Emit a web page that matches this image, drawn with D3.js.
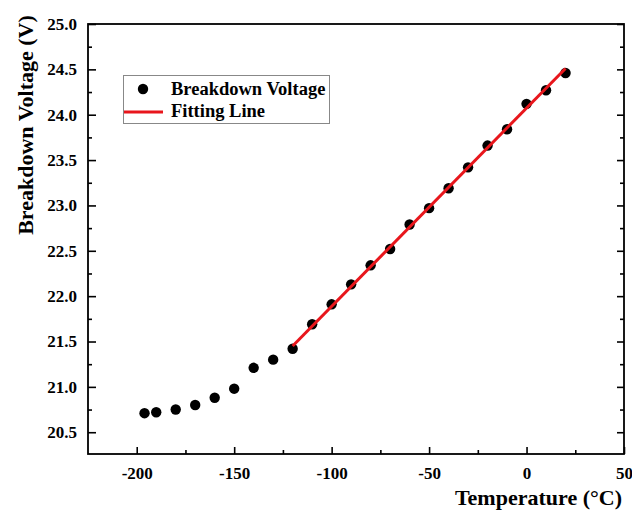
<!DOCTYPE html>
<html>
<head>
<meta charset="utf-8">
<script src="https://cdn.jsdelivr.net/npm/d3@7"></script>
<style>
  html, body { margin: 0; padding: 0; background: #fff; }
  svg { display: block; font-family: "Liberation Serif", "Times New Roman", serif; font-weight: bold; }
</style>
</head>
<body>
<svg width="632" height="516"></svg>
<script>
const width = 632, height = 516;
const svg = d3.select("svg");

// measured points
const temps = [-196, -190, -180, -170, -160, -150, -140, -130, -120, -110, -100, -90, -80, -70, -60, -50, -40, -30, -20, -10, 0, 10, 20];
const voltages = [20.71, 20.72, 20.75, 20.80, 20.88, 20.98, 21.21, 21.30, 21.42, 21.69, 21.91, 22.13, 22.34, 22.52, 22.79, 22.97, 23.19, 23.42, 23.66, 23.84, 24.12, 24.27, 24.46];

// fitted line ends
const fitT = [-120, 20];
const fitV = [21.45, 24.51];

const xMajor = [-200, -150, -100, -50, 0, 50];
const xMinor = [-175, -125, -75, -25, 25];
const yMajor = [20.5, 21.0, 21.5, 22.0, 22.5, 23.0, 23.5, 24.0, 24.5, 25.0];
const yMinor = [20.75, 21.25, 21.75, 22.25, 22.75, 23.25, 23.75, 24.25, 24.75];

const mLeft = 88, mRight = 624, mTop = 24, mBottom = 454;
const x = d3.scaleLinear().domain([-225, 50]).range([mLeft, mRight]);
const y = d3.scaleLinear().domain([20.26, 25]).range([mBottom, mTop]);

const red = "#e8161c";

function styleAxis(g) {
  g.select(".domain").remove();
  g.selectAll("line").attr("stroke", "#000").attr("stroke-width", 1.6);
  g.selectAll("text").attr("fill", "#000").style("font-size", "17px")
    .style("font-family", "'Liberation Serif', 'Times New Roman', serif").style("font-weight", "bold");
}

// bottom axis
svg.append("g").attr("transform", `translate(0,${mBottom})`)
  .call(d3.axisBottom(x).tickValues(xMajor).tickSize(-7).tickPadding(13).tickFormat(d => String(d)))
  .call(styleAxis);
svg.append("g").attr("transform", `translate(0,${mBottom})`)
  .call(d3.axisBottom(x).tickValues(xMinor).tickSize(-4).tickFormat(""))
  .call(styleAxis);

// left axis
svg.append("g").attr("transform", `translate(${mLeft},0)`)
  .call(d3.axisLeft(y).tickValues(yMajor).tickSize(-8).tickPadding(11).tickFormat(d3.format(".1f")))
  .call(styleAxis);
svg.append("g").attr("transform", `translate(${mLeft},0)`)
  .call(d3.axisLeft(y).tickValues(yMinor).tickSize(-4).tickFormat(""))
  .call(styleAxis);

// right axis (ticks only)
svg.append("g").attr("transform", `translate(${mRight},0)`)
  .call(d3.axisRight(y).tickValues(yMajor).tickSize(-7).tickFormat(""))
  .call(styleAxis);
svg.append("g").attr("transform", `translate(${mRight},0)`)
  .call(d3.axisRight(y).tickValues(yMinor).tickSize(-4).tickFormat(""))
  .call(styleAxis);

// frame
svg.append("rect")
  .attr("x", mLeft).attr("y", mTop)
  .attr("width", mRight - mLeft).attr("height", mBottom - mTop)
  .attr("fill", "none").attr("stroke", "#000").attr("stroke-width", 1.8);

// data
const pts = temps.map((t, i) => ({ t, v: voltages[i] }));
svg.append("g").selectAll("circle")
  .data(pts)
  .join("circle")
  .attr("cx", d => x(d.t))
  .attr("cy", d => y(d.v))
  .attr("r", 5.2)
  .attr("fill", "#000");

const fit = fitT.map((t, i) => ({ t, v: fitV[i] }));
svg.append("path")
  .datum(fit)
  .attr("fill", "none")
  .attr("stroke", red)
  .attr("stroke-width", 3)
  .attr("d", d3.line().x(d => x(d.t)).y(d => y(d.v)));

// legend
const lg = svg.append("g");
lg.append("rect").attr("x", 123.5).attr("y", 75.5).attr("width", 206).attr("height", 48)
  .attr("fill", "#fff").attr("stroke", "#888").attr("stroke-width", 1);
lg.append("circle").attr("cx", 143).attr("cy", 89).attr("r", 5.2).attr("fill", "#000");
lg.append("line").attr("x1", 124).attr("x2", 163).attr("y1", 112).attr("y2", 112)
  .attr("stroke", red).attr("stroke-width", 3);
lg.append("text").attr("x", 171).attr("y", 95).style("font-size", "18.5px").text("Breakdown Voltage");
lg.append("text").attr("x", 171).attr("y", 117).style("font-size", "18.5px").text("Fitting Line");

// axis titles
svg.append("text")
  .attr("x", 622).attr("y", 505)
  .attr("text-anchor", "end")
  .style("font-size", "22px")
  .text("Temperature (°C)");

svg.append("text")
  .attr("transform", "translate(33,125) rotate(-90)")
  .attr("text-anchor", "middle")
  .style("font-size", "22px")
  .text("Breakdown Voltage (V)");
</script>
</body>
</html>
